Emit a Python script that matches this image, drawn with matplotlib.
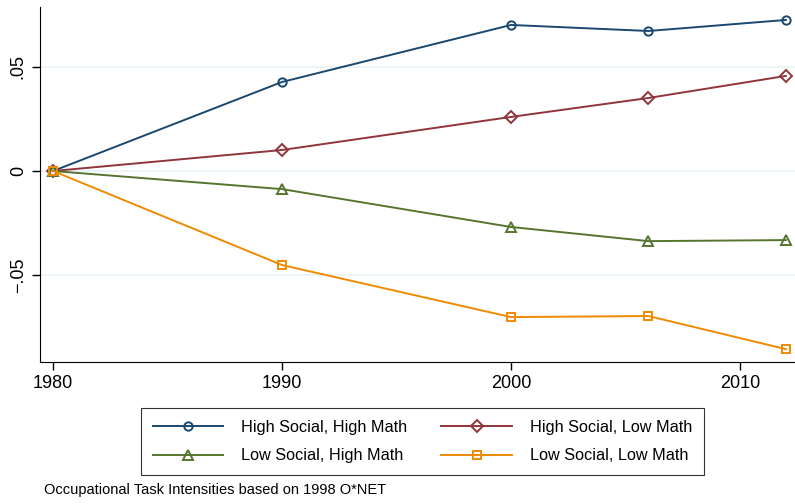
import matplotlib.pyplot as plt

# datos
anios = [1980, 1990, 2000, 2006, 2012]
alto_social_alto_mate = [0.0, 0.0428, 0.0702, 0.0673, 0.0726]
alto_social_bajo_mate = [0.0, 0.0101, 0.0260, 0.0351, 0.0457]
bajo_social_alto_mate = [0.0, -0.0087, -0.0269, -0.0337, -0.0332]
bajo_social_bajo_mate = [0.0, -0.0452, -0.0702, -0.0697, -0.0856]

etiquetas = ['High Social, High Math', 'High Social, Low Math',
             'Low Social, High Math', 'Low Social, Low Math']

plt.rcParams['font.family'] = ['Liberation Sans', 'DejaVu Sans']

fig = plt.figure(figsize=(7.95, 5.04), dpi=100)
ax = fig.add_axes([0.0503, 0.2817, 0.9497, 0.7043])

series = [
    (alto_social_alto_mate, '#1a476f', 'o', 6),
    (alto_social_bajo_mate, '#90353b', 'D', 6),
    (bajo_social_alto_mate, '#55752f', '^', 7),
    (bajo_social_bajo_mate, '#f08a00', 's', 6),
]
lineas = []
for (vals, color, marca, tam), etiqueta in zip(series, etiquetas):
    l, = ax.plot(anios, vals, color=color, lw=1.4, marker=marca, ms=tam,
                 mfc='none', mec=color, mew=1.4, label=etiqueta)
    lineas.append(l)

ax.set_xlim(1979.43, 2012.4)
ax.set_ylim(-0.0918, 0.0788)
ax.set_xticks([1980, 1990, 2000, 2010])
ax.set_yticks([-0.05, 0, 0.05])
ax.set_yticklabels(['\u2212.05', '0', '.05'], rotation=90, va='center')
ax.tick_params(labelsize=13, length=6, width=1, color='black')
ax.grid(axis='y', color='#eaf2f3', lw=1.2)
ax.set_axisbelow(True)
for lado in ['top', 'right']:
    ax.spines[lado].set_visible(False)

# orden por filas, como en el original
orden = [0, 2, 1, 3]
leg = fig.legend(handles=[lineas[i] for i in orden], loc='center',
                 bbox_to_anchor=(0.5314, 0.124), ncol=2, fontsize=11.7,
                 handlelength=4.35, frameon=True, fancybox=False,
                 edgecolor='black', borderpad=0.72, columnspacing=2.1,
                 handletextpad=1.1, labelspacing=0.85, borderaxespad=0)
leg.get_frame().set_linewidth(0.8)

fig.text(0.055, 0.027, 'Occupational Task Intensities based on 1998 O*NET',
         fontsize=10.5, va='center')

fig.savefig('out.png', dpi=100)
